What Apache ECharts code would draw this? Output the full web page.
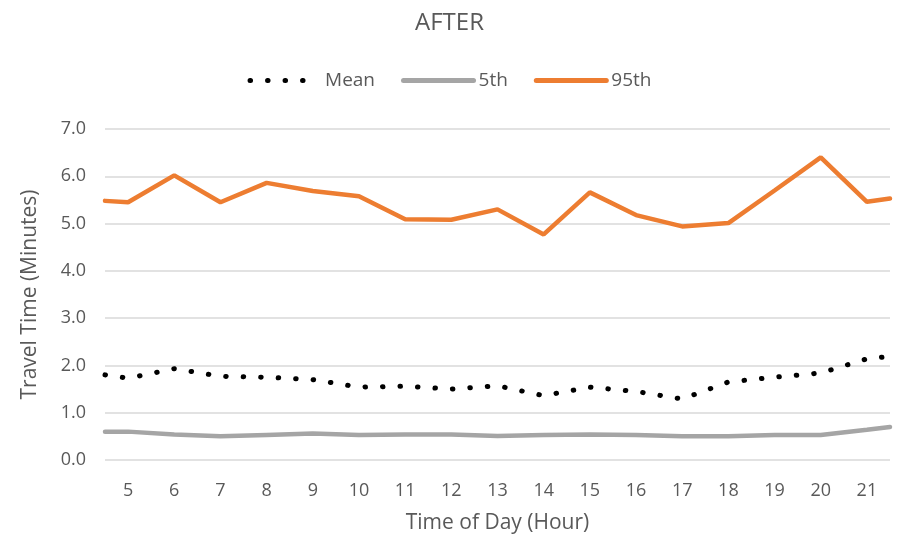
<!DOCTYPE html>
<html>
<head>
<meta charset="utf-8">
<script src="https://cdn.jsdelivr.net/npm/echarts@6/dist/echarts.min.js"></script>
<style>
  html, body { margin: 0; padding: 0; background: #fff; }
  #chart { width: 899px; height: 542px; }
</style>
</head>
<body>
<div id="chart"></div>
<script>
// Hour positions of each sample (the series run edge to edge of the plot)
const hours = [4.5, 5, 6, 7, 8, 9, 10, 11, 12, 13, 14, 15, 16, 17, 18, 19, 20, 21, 21.5];
// Hour tick labels shown on the x axis
const hourTicks = [5, 6, 7, 8, 9, 10, 11, 12, 13, 14, 15, 16, 17, 18, 19, 20, 21];

// Travel time in minutes
const meanTime = [1.80, 1.73, 1.93, 1.77, 1.75, 1.70, 1.54, 1.56, 1.50, 1.57, 1.36, 1.54, 1.45, 1.29, 1.65, 1.75, 1.84, 2.14, 2.19];
const p5Time   = [0.60, 0.60, 0.54, 0.50, 0.53, 0.56, 0.53, 0.54, 0.54, 0.51, 0.53, 0.54, 0.53, 0.50, 0.50, 0.53, 0.53, 0.64, 0.70];
const p95Time  = [5.48, 5.45, 6.02, 5.45, 5.86, 5.69, 5.58, 5.09, 5.08, 5.30, 4.77, 5.66, 5.18, 4.94, 5.01, 5.70, 6.40, 5.46, 5.53];

const pair = vals => hours.map((h, i) => [h, vals[i]]);

const FONT = 'Open Sans';
const TXT = '#595959';

const chart = echarts.init(document.getElementById('chart'), null, { renderer: 'canvas' });
chart.setOption({
  animation: false,
  backgroundColor: '#ffffff',
  textStyle: { fontFamily: FONT, color: TXT },
  title: {
    text: 'AFTER',
    left: 'center',
    top: 6,
    textStyle: { fontFamily: FONT, fontWeight: 'normal', fontSize: 24, color: TXT }
  },
  legend: {
    top: 66,
    left: 'center',
    itemWidth: 70,
    itemHeight: 20,
    itemGap: 26,
    itemStyle: { opacity: 0 },
    lineStyle: { width: 5 },
    textStyle: { fontFamily: FONT, fontSize: 19, color: TXT },
    data: ['Mean', '5th', '95th']
  },
  grid: { left: 105, right: 9, top: 129, bottom: 82 },
  xAxis: {
    type: 'value',
    min: 4.5,
    max: 21.5,
    name: 'Time of Day (Hour)',
    nameLocation: 'middle',
    nameGap: 53,
    nameTextStyle: { fontFamily: FONT, fontSize: 21, color: TXT },
    axisLine: { show: false },
    axisTick: { show: false },
    splitLine: { show: false },
    axisLabel: {
      customValues: hourTicks,
      margin: 22,
      fontFamily: FONT,
      fontSize: 18,
      color: TXT
    }
  },
  yAxis: {
    type: 'value',
    min: 0,
    max: 7,
    interval: 1,
    name: 'Travel Time (Minutes)',
    nameLocation: 'middle',
    nameGap: 64,
    nameTextStyle: { fontFamily: FONT, fontSize: 21, color: TXT },
    axisLine: { show: false },
    axisTick: { show: false },
    axisLabel: {
      margin: 19,
      fontFamily: FONT,
      fontSize: 18,
      color: TXT,
      formatter: v => v.toFixed(1)
    },
    splitLine: { lineStyle: { color: '#D9D9D9', width: 1.5 } }
  },
  series: [
    {
      name: 'Mean',
      type: 'line',
      data: pair(meanTime),
      symbol: 'none',
      color: '#000000',
      lineStyle: { color: '#000000', width: 5, type: [0.5, 17], cap: 'round' },
      z: 3
    },
    {
      name: '5th',
      type: 'line',
      data: pair(p5Time),
      symbol: 'none',
      color: '#A5A5A5',
      lineStyle: { color: '#A5A5A5', width: 4.5, cap: 'round' },
      z: 2
    },
    {
      name: '95th',
      type: 'line',
      data: pair(p95Time),
      symbol: 'none',
      color: '#ED7D31',
      lineStyle: { color: '#ED7D31', width: 4.5, cap: 'round' },
      z: 2
    }
  ]
});
</script>
</body>
</html>
